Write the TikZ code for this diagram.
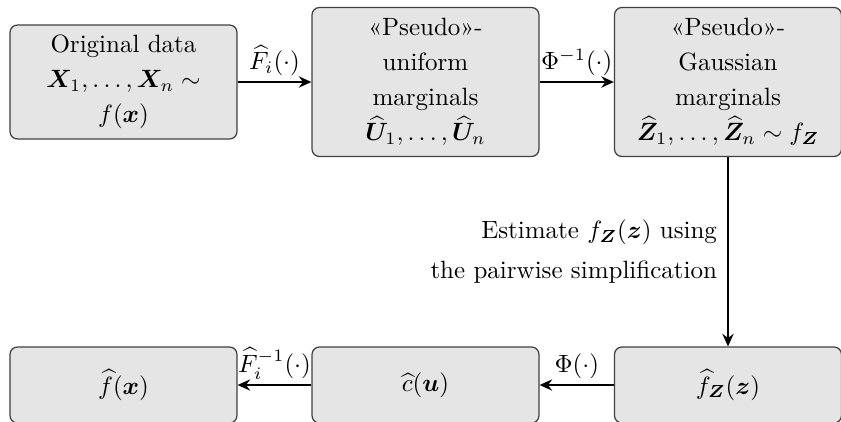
\documentclass[tikz,border=0pt]{standalone}
\usepackage{amsmath,bm}
\usetikzlibrary{arrows.meta}
\tikzset{
  box/.style={draw=black!75, line width=0.5pt, fill=gray!20, rounded corners=3pt,
    align=center, minimum width=90.8pt, inner sep=2pt,
    font=\fontsize{10}{14}\selectfont},
  flow/.style={thick, -{Stealth[length=5pt,width=4.5pt]}},
  lbl/.style={font=\fontsize{10}{14}\selectfont, inner sep=2pt}
}
\begin{document}
\begin{tikzpicture}[x=0.4pt,y=-0.4pt]
\useasboundingbox (0,0) rectangle (841,421);
\node[box, minimum height=45.6pt] (b1) at (123.5,82) {Original data\\ $\bm{X}_1,\dots,\bm{X}_n\sim$\\ $f(\bm{x})$};
\node[box, minimum height=59.6pt] (b2) at (425.5,82) {«Pseudo»-\\ uniform\\ marginals\\ $\widehat{\bm{U}}_1,\dots,\widehat{\bm{U}}_n$};
\node[box, minimum height=59.6pt] (b3) at (728,82) {«Pseudo»-\\ Gaussian\\ marginals\\ $\widehat{\bm{Z}}_1,\dots,\widehat{\bm{Z}}_n\sim f_{\bm{Z}}$};
\node[box, minimum height=30.4pt] (c3) at (728,385) {$\widehat{f}_{\bm{Z}}(\bm{z})$};
\node[box, minimum height=30.4pt] (c2) at (425.5,385) {$\widehat{c}(\bm{u})$};
\node[box, minimum height=30.4pt] (c1) at (123.5,385) {$\widehat{f}(\bm{x})$};
\draw[flow] (b1.east) -- node[lbl, above] {$\widehat{F}_i(\cdot)$} (b2.west);
\draw[flow] (b2.east) -- node[lbl, above] {$\Phi^{-1}(\cdot)$} (b3.west);
\draw[flow] (b3.south) -- node[lbl, left, align=right, inner sep=4pt] {Estimate $f_{\bm{Z}}(\bm{z})$ using\\[2pt] the pairwise simplification} (c3.north);
\draw[flow] (c3.west) -- node[lbl, above] {$\Phi(\cdot)$} (c2.east);
\draw[flow] (c2.west) -- node[lbl, above] {$\widehat{F}_i^{-1}(\cdot)$} (c1.east);
\end{tikzpicture}
\end{document}
